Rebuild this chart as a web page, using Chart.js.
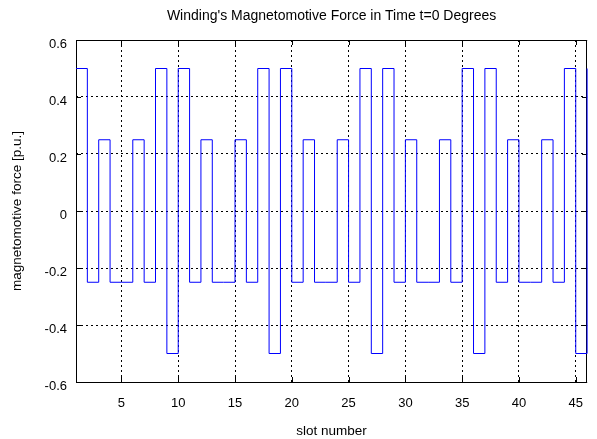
<!DOCTYPE html>
<html>
<head>
<meta charset="utf-8">
<script src="https://cdn.jsdelivr.net/npm/chart.js@4"></script>
<style>
  html, body { margin: 0; padding: 0; background: #fff; }
  #wrap { width: 597px; height: 439px; }
</style>
</head>
<body>
<div id="wrap"><canvas id="mmfChart"></canvas></div>
<script>
// slot numbers and MMF value (p.u.) held from each slot to the next one
const slots = [1, 2, 3, 4, 5, 6, 7, 8, 9, 10, 11, 12, 13, 14, 15, 16, 17, 18, 19, 20, 21, 22, 23,
    24, 25, 26, 27, 28, 29, 30, 31, 32, 33, 34, 35, 36, 37, 38, 39, 40, 41, 42, 43, 44, 45, 46];
const mmf = [0.5, -0.25, 0.25, -0.25, -0.25, 0.25, -0.25, 0.5, -0.5,
    0.5, -0.25, 0.25, -0.25, -0.25, 0.25, -0.25, 0.5, -0.5,
    0.5, -0.25, 0.25, -0.25, -0.25, 0.25, -0.25, 0.5, -0.5,
    0.5, -0.25, 0.25, -0.25, -0.25, 0.25, -0.25, 0.5, -0.5,
    0.5, -0.25, 0.25, -0.25, -0.25, 0.25, -0.25, 0.5, -0.5,
    0.5];
const xTicks = [5, 10, 15, 20, 25, 30, 35, 40, 45];
const yTicks = [-0.6, -0.4, -0.2, 0, 0.2, 0.4, 0.6];
const chartTitle = "Winding's Magnetomotive Force in Time t=0 Degrees";

const FAMILY = 'Liberation Sans, Arial, Helvetica, sans-serif';
const TICK_FONT = { family: FAMILY, size: 13 };
const AXIS_FONT = { family: FAMILY, size: 13.5 };

// box around the plot, inward tick marks on all four sides, title centred over the axes
// (drawn before the data so the blue trace stays on top of the frame)
const boxPlugin = {
    id: 'boxPlugin',
    beforeDatasetsDraw(chart) {
        const { ctx, chartArea: a, scales: { x, y } } = chart;
        ctx.save();
        ctx.strokeStyle = '#000';
        ctx.lineWidth = 1;
        ctx.setLineDash([]);
        ctx.beginPath();
        xTicks.forEach(v => {
            const px = Math.round(x.getPixelForValue(v)) + 0.5;
            ctx.moveTo(px, a.bottom); ctx.lineTo(px, a.bottom - 5);
            ctx.moveTo(px, a.top); ctx.lineTo(px, a.top + 5);
        });
        yTicks.forEach(v => {
            const py = Math.round(y.getPixelForValue(v)) + 0.5;
            ctx.moveTo(a.left, py); ctx.lineTo(a.left + 5, py);
            ctx.moveTo(a.right, py); ctx.lineTo(a.right - 5, py);
        });
        ctx.stroke();
        ctx.strokeRect(Math.round(a.left) + 0.5, Math.round(a.top) + 0.5,
            Math.round(a.right - a.left) - 1, Math.round(a.bottom - a.top));

        ctx.fillStyle = '#000';
        ctx.font = '14px ' + FAMILY;
        ctx.textAlign = 'center';
        ctx.textBaseline = 'alphabetic';
        ctx.fillText(chartTitle, (a.left + a.right) / 2, 19.5);
        ctx.restore();
    }
};

const ctx = document.getElementById('mmfChart').getContext('2d');
new Chart(ctx, {
    type: 'line',
    data: {
        datasets: [{
            data: slots.map((s, i) => ({ x: s, y: mmf[i] })),
            borderColor: '#0000ff',
            borderWidth: 1,
            pointRadius: 0,
            fill: false,
            clip: 2,
            stepped: 'before'
        }]
    },
    options: {
        responsive: true,
        maintainAspectRatio: false,
        animation: false,
        layout: { padding: { left: 0, right: 1, top: 40, bottom: 0 } },
        scales: {
            x: {
                type: 'linear',
                min: 1,
                max: 46,
                afterBuildTicks: s => { s.ticks = xTicks.map(v => ({ value: v })); },
                afterFit: s => { s.height = 57; },
                grid: { color: '#000', lineWidth: 1, drawTicks: false },
                border: { display: false, dash: [2, 3] },
                ticks: { color: '#000', font: TICK_FONT, padding: 14, maxRotation: 0 },
                title: { display: true, text: 'slot number', color: '#000', font: AXIS_FONT, padding: { top: 0, bottom: 0 } }
            },
            y: {
                min: -0.6,
                max: 0.6,
                afterBuildTicks: s => { s.ticks = yTicks.map(v => ({ value: v })); },
                afterFit: s => { s.width = 76; },
                grid: { color: '#000', lineWidth: 1, drawTicks: false },
                border: { display: false, dash: [2, 3] },
                ticks: {
                    color: '#000', font: TICK_FONT, padding: 9, labelOffset: 4,
                    callback: v => (Math.abs(v) < 1e-9 ? '0' : String(Math.round(v * 10) / 10))
                },
                title: { display: true, text: 'magnetomotive force [p.u.]', color: '#000', font: AXIS_FONT, padding: { top: 9, bottom: 0 } }
            }
        },
        plugins: {
            legend: { display: false },
            tooltip: { enabled: false },
            title: { display: false }
        }
    },
    plugins: [boxPlugin]
});
</script>
</body>
</html>
